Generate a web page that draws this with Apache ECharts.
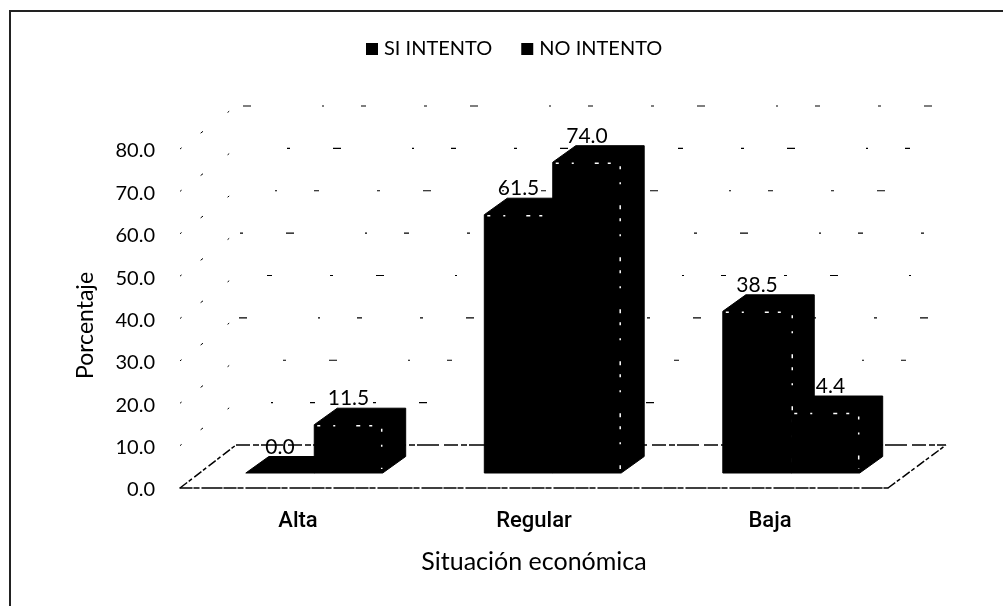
<!DOCTYPE html>
<html>
<head>
<meta charset="utf-8">
<title>Situación económica</title>
<style>
  html, body { margin: 0; padding: 0; background: #fff; }
  #main { width: 1003px; height: 606px; }
</style>
<script src="https://cdn.jsdelivr.net/npm/echarts@6/dist/echarts.min.js"></script>
</head>
<body>
<div id="main"></div>
<script>
// datos
var categories = ['Alta', 'Regular', 'Baja']
var siIntento = [0.0, 61.5, 38.5]
var noIntento = [11.5, 74.0, 14.4]
// la etiqueta del ultimo bar se lee 4.4 en el original
var siLabels = ['0.0', '61.5', '38.5']
var noLabels = ['11.5', '74.0', '4.4']
var yTicks = [0, 10, 20, 30, 40, 50, 60, 70, 80]

var font = 'Lato, "Open Sans", sans-serif'
var depthX = 23
var depthY = 16.5

// barra 3D: cara frontal, lateral y superior + restos blancos del escaneo
function bar3d(offsetSide, labels) {
  return function (params, api) {
    var i = api.value(0)
    var v = api.value(1)
    var base = api.coord([i, 0])
    var top = api.coord([i, v])
    var w = api.size([1, 0])[0] * 0.287
    var x0 = base[0] + offsetSide * w
    var x1 = x0 + w
    var y0 = base[1]
    var y1 = top[1]
    var black = { fill: '#000', stroke: '#000', lineWidth: 1 }
    var speck = { stroke: '#fff', lineWidth: 1.5, lineDash: [3, 13, 2, 21, 4, 9], fill: null }
    // la serie de atras tapa el borde derecho de la primera
    var edgeX = offsetSide < 0 ? x1 + 1 : x1 - 1
    // si la etiqueta perdio un digito, queda corrida hacia la derecha
    var shift = labels[i].length < v.toFixed(1).length ? 5 : 0
    var children = [
      { type: 'polygon', shape: { points: [[x0, y0], [x1, y0], [x1 + depthX, y0 - depthY], [x1 + depthX, y1 - depthY], [x0 + depthX, y1 - depthY], [x0, y1]] }, style: black },
      { type: 'text', z2: 10, style: { text: labels[i], x: x0 + w / 2 + shift, y: y1 - depthY + 1, align: 'center', verticalAlign: 'bottom', fill: '#000', font: '21px ' + font } }
    ]
    if (v > 0) {
      children.splice(1, 0,
        { type: 'line', shape: { x1: x0 + 3, y1: y1 + 1, x2: x1 - 3, y2: y1 + 1 }, style: speck },
        { type: 'line', shape: { x1: edgeX, y1: y1 + 4, x2: edgeX, y2: y0 - 4 }, style: speck }
      )
    }
    return { type: 'group', children: children }
  }
}

// paredes y piso: lineas oblicuas desde el eje y lineas de la pared del fondo
function frameItem(params, api) {
  var v = api.value(0)
  var rect = params.coordSys
  var y = api.coord([0, v])[1]
  var dx = 56
  var dy = 43
  var floorDash = [9, 2, 4, 3]
  var wallX2 = rect.x + rect.width + dx + 2
  var children = [
    { type: 'line', shape: { x1: rect.x, y1: y, x2: rect.x + dx, y2: y - dy }, style: { stroke: '#000', lineWidth: v === 0 ? 1.5 : 1, lineDash: v === 0 ? floorDash : [2, 24, 3, 31] } }
  ]
  if (v === 0) {
    children.push(
      { type: 'line', shape: { x1: rect.x + rect.width, y1: y, x2: wallX2, y2: y - dy }, style: { stroke: '#000', lineWidth: 1.5, lineDash: floorDash } },
      { type: 'line', shape: { x1: rect.x + dx, y1: y - dy, x2: wallX2, y2: y - dy }, style: { stroke: '#000', lineWidth: 1.5, lineDash: [14, 3, 6, 2, 22, 5] } }
    )
  } else {
    // el escaneo dejo solo trozos sueltos, distintos en cada linea
    children.push(
      { type: 'line', shape: { x1: rect.x + dx, y1: y - dy, x2: wallX2, y2: y - dy }, style: { stroke: '#000', lineWidth: 1.2, lineDash: [3, 43, 8, 71, 2, 37, 5, 58], lineDashOffset: v * 9 } }
    )
  }
  return { type: 'group', children: children }
}

var chart = echarts.init(document.getElementById('main'))
chart.setOption({
  animation: false,
  backgroundColor: '#fff',
  textStyle: { fontFamily: font, color: '#000' },
  legend: {
    data: ['SI INTENTO', 'NO INTENTO'],
    top: 34,
    left: 361,
    itemWidth: 12,
    itemHeight: 12,
    itemGap: 29,
    icon: 'rect',
    textStyle: { fontSize: 20, color: '#000', fontFamily: font, padding: [0, 0, 0, 1] }
  },
  grid: [
    // ejes visibles
    { left: 180, width: 708, top: 149, height: 339 },
    // barras
    { left: 195, width: 715.5, top: 137, height: 336 }
  ],
  xAxis: [
    {
      gridIndex: 0,
      type: 'category',
      data: categories,
      name: 'Situación económica',
      nameLocation: 'middle',
      nameGap: 61,
      nameTextStyle: { fontSize: 25, color: '#000', fontFamily: font },
      axisTick: { show: false },
      axisLine: { show: true, lineStyle: { color: '#000', width: 1.5, type: [12, 2, 5, 3, 20, 2] } },
      axisLabel: { fontSize: 22, fontWeight: 500, color: '#000', margin: 22, fontFamily: 'Roboto, ' + font }
    },
    { gridIndex: 1, type: 'category', data: categories, show: false }
  ],
  yAxis: [
    {
      gridIndex: 0,
      type: 'value',
      min: 0,
      max: 80,
      interval: 10,
      name: 'Porcentaje',
      nameLocation: 'middle',
      nameGap: 83,
      nameTextStyle: { fontSize: 23, color: '#000', fontFamily: font, padding: [0, 14, 0, 0] },
      axisLine: { show: false },
      axisTick: { show: false },
      splitLine: { show: false },
      axisLabel: {
        fontSize: 20,
        color: '#000',
        margin: 25,
        verticalAlign: 'top',
        lineHeight: 4,
        fontFamily: font,
        formatter: function (v) { return v.toFixed(1) }
      }
    },
    {
      gridIndex: 1,
      type: 'value',
      min: 0,
      max: 80,
      interval: 10,
      show: false,
      splitLine: { show: false }
    }
  ],
  graphic: [
    // marco del escaneo: solo lados izquierdo y superior
    { type: 'line', silent: true, shape: { x1: 10, y1: 10, x2: 10, y2: 606 }, style: { stroke: '#222', lineWidth: 2 } },
    { type: 'line', silent: true, shape: { x1: 10, y1: 11, x2: 1003, y2: 11 }, style: { stroke: '#222', lineWidth: 2 } }
  ],
  series: [
    {
      type: 'custom',
      name: 'piso',
      xAxisIndex: 0,
      yAxisIndex: 0,
      silent: true,
      renderItem: frameItem,
      encode: { y: 0 },
      data: yTicks.map(function (v) { return [v] })
    },
    {
      type: 'custom',
      name: 'SI INTENTO',
      xAxisIndex: 1,
      yAxisIndex: 1,
      itemStyle: { color: '#000' },
      renderItem: bar3d(-1, siLabels),
      encode: { x: 0, y: 1 },
      data: siIntento.map(function (v, i) { return [i, v] })
    },
    {
      type: 'custom',
      name: 'NO INTENTO',
      xAxisIndex: 1,
      yAxisIndex: 1,
      itemStyle: { color: '#000' },
      renderItem: bar3d(0, noLabels),
      encode: { x: 0, y: 1 },
      data: noIntento.map(function (v, i) { return [i, v] })
    }
  ]
})
</script>
</body>
</html>
